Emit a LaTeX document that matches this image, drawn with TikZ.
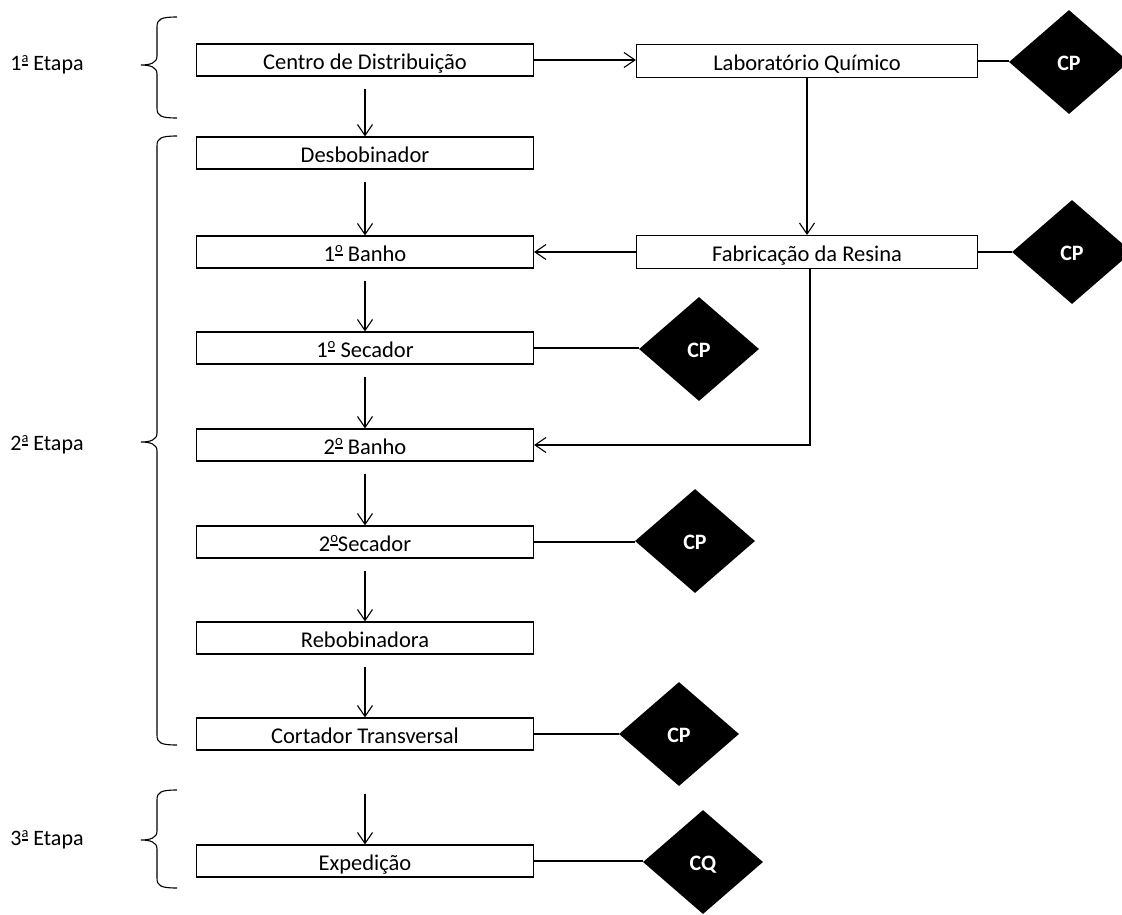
\documentclass[tikz,border=0pt]{standalone}
\usepackage{fontspec}
\setmainfont{Carlito}
\usetikzlibrary{arrows.meta,shapes.geometric}

\newlength{\ordw}
\newcommand{\ordinal}[1]{\settowidth{\ordw}{#1}\raisebox{0.36em}{\scalebox{0.65}{\rlap{\rule[-0.2em]{\ordw}{0.1em}}#1}}}

\begin{document}
\begin{tikzpicture}[x=1pt,y=-1pt,
  box/.style={draw,line width=1.1pt,minimum width=337pt,minimum height=32pt,inner sep=0pt,
    text height=20pt,text depth=2pt,font=\fontsize{22.5}{26}\selectfont},
  rbox/.style={box,minimum width=341pt,minimum height=33pt},
  ctrl/.style={diamond,fill=black,minimum width=120pt,minimum height=104pt,inner sep=0pt,text=white,
    text height=16pt,text depth=0pt,font=\fontsize{22}{26}\selectfont\bfseries},
  flow/.style={-{Straight Barb[length=11pt,width=15pt]},line width=1.1pt},
  link/.style={line width=1.1pt},
  etapa/.style={font=\fontsize{22}{26}\selectfont}]
  \useasboundingbox (0,0) rectangle (1122,914);

  % Etapas
  \node[etapa] (e1) at (47,65) {1\ordinal{a} Etapa};
  \node[etapa] (e2) at (47,445) {2\ordinal{a} Etapa};
  \node[etapa] (e3) at (47,840) {3\ordinal{a} Etapa};
  \draw[link] (177,17) .. controls (161,17) and (157,19) .. (157,27) -- (157,56)
    .. controls (157,63) and (150,65) .. (141,65) .. controls (150,65) and (157,67) .. (157,74)
    -- (157,108) .. controls (157,116) and (161,118) .. (177,118);
  \draw[link] (177,136) .. controls (161,136) and (157,138) .. (157,146) -- (157,433)
    .. controls (157,440) and (150,442) .. (141,442) .. controls (150,442) and (157,444) .. (157,451)
    -- (157,735) .. controls (157,743) and (161,745) .. (177,745);
  \draw[link] (177,790) .. controls (161,790) and (157,792) .. (157,800) -- (157,831)
    .. controls (157,838) and (150,840) .. (141,840) .. controls (150,840) and (157,842) .. (157,849)
    -- (157,878) .. controls (157,886) and (161,888) .. (177,888);

  % Processo
  \node[box] (centro) at (365,60) {Centro de Distribuição};
  \node[box] (desb) at (365,153) {Desbobinador};
  \node[box] (banho1) at (365,252) {1\ordinal{o} Banho};
  \node[box] (sec1) at (365,348) {1\ordinal{o} Secador};
  \node[box] (banho2) at (365,445) {2\ordinal{o} Banho};
  \node[box] (sec2) at (365,542) {2\ordinal{o}Secador};
  \node[box] (rebob) at (365,638) {Rebobinadora};
  \node[box] (cort) at (365,734) {Cortador Transversal};
  \node[box] (exped) at (365,861) {Expedição};

  \node[rbox] (lab) at (807,61) {Laboratório Químico};
  \node[rbox] (resina) at (807,252) {Fabricação da Resina};

  % Pontos de controle
  \node[ctrl] (cp1) at (1069,62) {CP};
  \node[ctrl] (cp2) at (1072,252) {CP};
  \node[ctrl] (cp3) at (699,349) {CP};
  \node[ctrl] (cp4) at (695,541) {CP};
  \node[ctrl] (cp5) at (679,734) {CP};
  \node[ctrl] (cq) at (703,862) {CQ};

  % Fluxo
  \draw[flow,shorten <=12pt] (centro) -- (desb);
  \draw[flow,shorten <=12pt] (desb) -- (banho1);
  \draw[flow,shorten <=12pt] (banho1) -- (sec1);
  \draw[flow,shorten <=12pt] (sec1) -- (banho2);
  \draw[flow,shorten <=12pt] (banho2) -- (sec2);
  \draw[flow,shorten <=12pt] (sec2) -- (rebob);
  \draw[flow,shorten <=12pt] (rebob) -- (cort);
  \draw[flow,shorten <=43pt] (cort) -- (exped);
  \draw[flow] (centro.east) -- (centro.east -| lab.west);
  \draw[flow] (lab.south) -- (resina.north);
  \draw[flow] (resina.west) -- (banho1.east);
  \draw[flow] ([xshift=3pt]resina.south) |- (banho2.east);

  % Ligacoes
  \draw[link] (lab.east) -- (lab.east -| cp1.west);
  \draw[link] (resina.east) -- (cp2.west);
  \draw[link] (sec1.east) -- (sec1.east -| cp3.west);
  \draw[link] (sec2.east) -- (sec2.east -| cp4.west);
  \draw[link] (cort.east) -- (cp5.west);
  \draw[link] (exped.east) -- (exped.east -| cq.west);
\end{tikzpicture}
\end{document}
